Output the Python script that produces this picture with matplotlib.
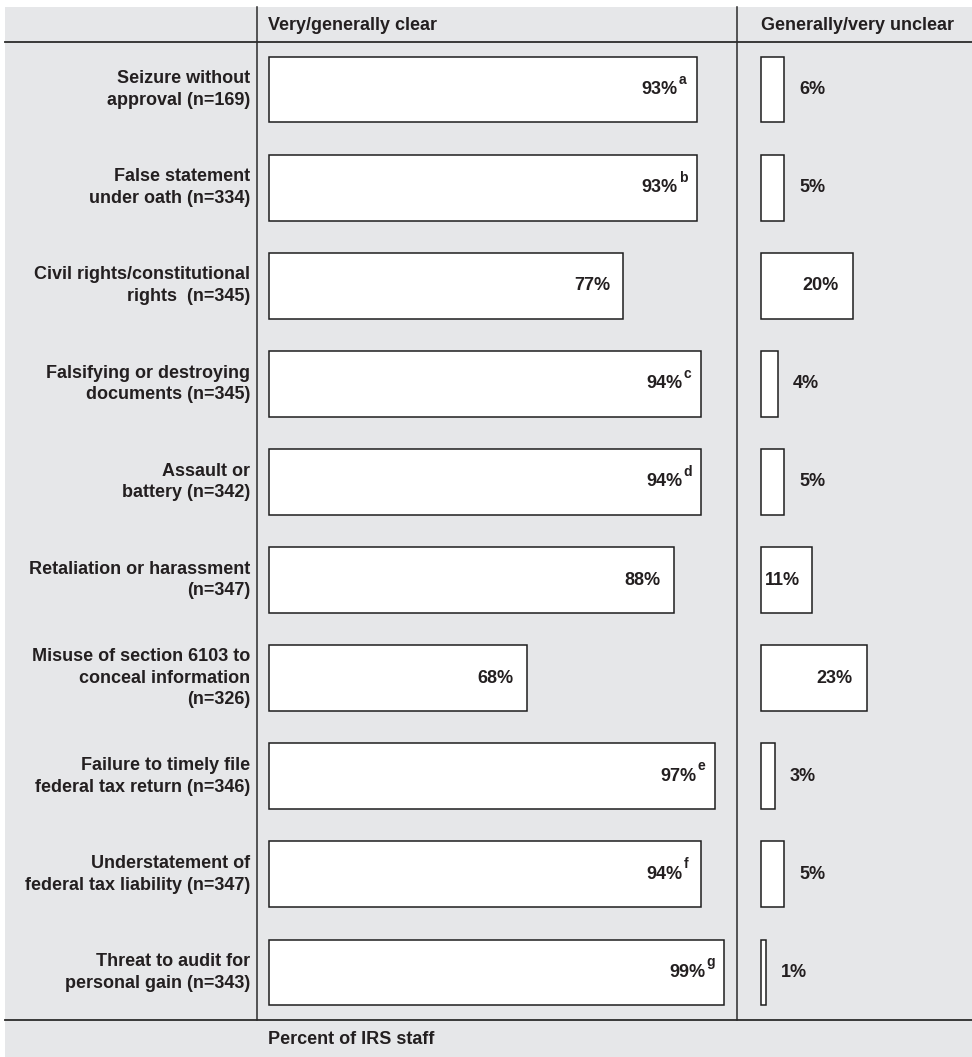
import matplotlib
matplotlib.use("Agg")
import matplotlib.pyplot as plt
from matplotlib.patches import Rectangle
from matplotlib.lines import Line2D
import matplotlib.transforms as mtransforms

categories = [
    "Seizure without\napproval (n=169)",
    "False statement\nunder oath (n=334)",
    "Civil rights/constitutional\nrights  (n=345)",
    "Falsifying or destroying\ndocuments (n=345)",
    "Assault or\nbattery (n=342)",
    "Retaliation or harassment\n(n=347)",
    "Misuse of section 6103 to\nconceal information\n(n=326)",
    "Failure to timely file\nfederal tax return (n=346)",
    "Understatement of\nfederal tax liability (n=347)",
    "Threat to audit for\npersonal gain (n=343)",
]
# printed percentages
clear_pct = [93, 93, 77, 94, 94, 88, 68, 97, 94, 99]
clear_notes = ["a", "b", "", "c", "d", "", "", "e", "f", "g"]
unclear_pct = [6, 5, 20, 4, 5, 11, 23, 3, 5, 1]
# bar lengths as drawn in the source graphic
clear_bar = [93, 93, 77, 94, 94, 88, 56, 97, 94, 99]
unclear_bar = [5, 5, 20, 3.7, 5, 11, 23, 3, 5, 1]

col_headers = ["Very/generally clear", "Generally/very unclear"]
footer = "Percent of IRS staff"

W, H = 972, 1057
DPI = 100
TXT = "#231f20"
LINE = "#2b2b2b"
BG = "#e6e7e9"
FONT = "Liberation Sans"
FS = 13

fig = plt.figure(figsize=(W / DPI, H / DPI), dpi=DPI)
fig.patch.set_facecolor("white")

def fx(px):
    return px / W

def fy(py):
    return 1 - py / H

# grey background panel
bgrect = Rectangle((fx(5), 0), 1 - fx(5), fy(7), transform=fig.transFigure,
                   facecolor=BG, edgecolor="none", zorder=-10)
fig.patches.append(bgrect)

top, bot = 42, 1020
v1, v2 = 257, 737
x0L, x0R = 269, 761
scale = 4.6  # px per percent

axL = fig.add_axes([fx(v1), fy(bot), fx(v2 - v1), (bot - top) / H])
axR = fig.add_axes([fx(v2), fy(bot), fx(W - v2), (bot - top) / H])
n = len(categories)
for ax in (axL, axR):
    ax.set_facecolor("none")
    ax.patch.set_alpha(0)
    ax.set_zorder(1)
    ax.set_ylim(n - 0.515, -0.485)
    for s in ax.spines.values():
        s.set_visible(False)
    ax.set_xticks([])
    ax.set_yticks([])

axL.set_xlim(-(x0L - v1) / scale, (v2 - x0L) / scale)
axR.set_xlim(-(x0R - v2) / scale, (W - x0R) / scale)

ypos = list(range(n))
bh = 0.67
axL.barh(ypos, clear_bar, height=bh, color="white", edgecolor="#1e1e1e", linewidth=1.1)
axR.barh(ypos, unclear_bar, height=bh, color="white", edgecolor="#1e1e1e", linewidth=1.1)

for i, (v, b, note) in enumerate(zip(clear_pct, clear_bar, clear_notes)):
    if note:
        axL.annotate(f"{v}%", (b, i), xytext=(-19, 0), textcoords="offset pixels",
                     ha="right", va="center", fontsize=FS, fontweight="bold",
                     color=TXT, family=FONT)
        axL.annotate(note, (b, i), xytext=(-18, 10), textcoords="offset pixels",
                     ha="left", va="center", fontsize=10, fontweight="bold",
                     color=TXT, family=FONT)
    else:
        axL.annotate(f"{v}%", (b, i), xytext=(-13, 0), textcoords="offset pixels",
                     ha="right", va="center", fontsize=FS, fontweight="bold",
                     color=TXT, family=FONT)

for i, (v, b) in enumerate(zip(unclear_pct, unclear_bar)):
    if v < 10:
        axR.annotate(f"{v}%", (b, i), xytext=(15, 0), textcoords="offset pixels",
                     ha="left", va="center", fontsize=FS, fontweight="bold",
                     color=TXT, family=FONT)
    elif v < 15:
        axR.annotate(f"{v}%", (0, i), xytext=(4, 0), textcoords="offset pixels",
                     ha="left", va="center", fontsize=FS, fontweight="bold",
                     color=TXT, family=FONT)
    else:
        axR.annotate(f"{v}%", (b, i), xytext=(-14, 0), textcoords="offset pixels",
                     ha="right", va="center", fontsize=FS, fontweight="bold",
                     color=TXT, family=FONT)

# category labels
blend = mtransforms.blended_transform_factory(fig.transFigure, axL.transData)
for i, lab in enumerate(categories):
    fig.text(fx(250), i, lab, transform=blend, ha="right", va="center",
             fontsize=FS, fontweight="bold", color=TXT, family=FONT,
             linespacing=1.35, multialignment="right", zorder=5)

# header / footer
fig.text(fx(268), fy(25), col_headers[0], ha="left", va="center", fontsize=FS,
         fontweight="bold", color=TXT, family=FONT)
fig.text(fx(761), fy(25), col_headers[1], ha="left", va="center", fontsize=FS,
         fontweight="bold", color=TXT, family=FONT)
fig.text(fx(268), fy(1040), footer, ha="left", va="center", fontsize=FS,
         fontweight="bold", color=TXT, family=FONT)

# rule lines
for yy in (top, bot):
    fig.lines.append(Line2D([fx(5), 1], [fy(yy), fy(yy)], transform=fig.transFigure,
                            color=LINE, linewidth=1.3, zorder=0))
for xx in (v1, v2):
    fig.lines.append(Line2D([fx(xx), fx(xx)], [fy(7), fy(bot)], transform=fig.transFigure,
                            color=LINE, linewidth=1.1, zorder=0))

fig.savefig("out.png", dpi=DPI, facecolor=fig.get_facecolor())
